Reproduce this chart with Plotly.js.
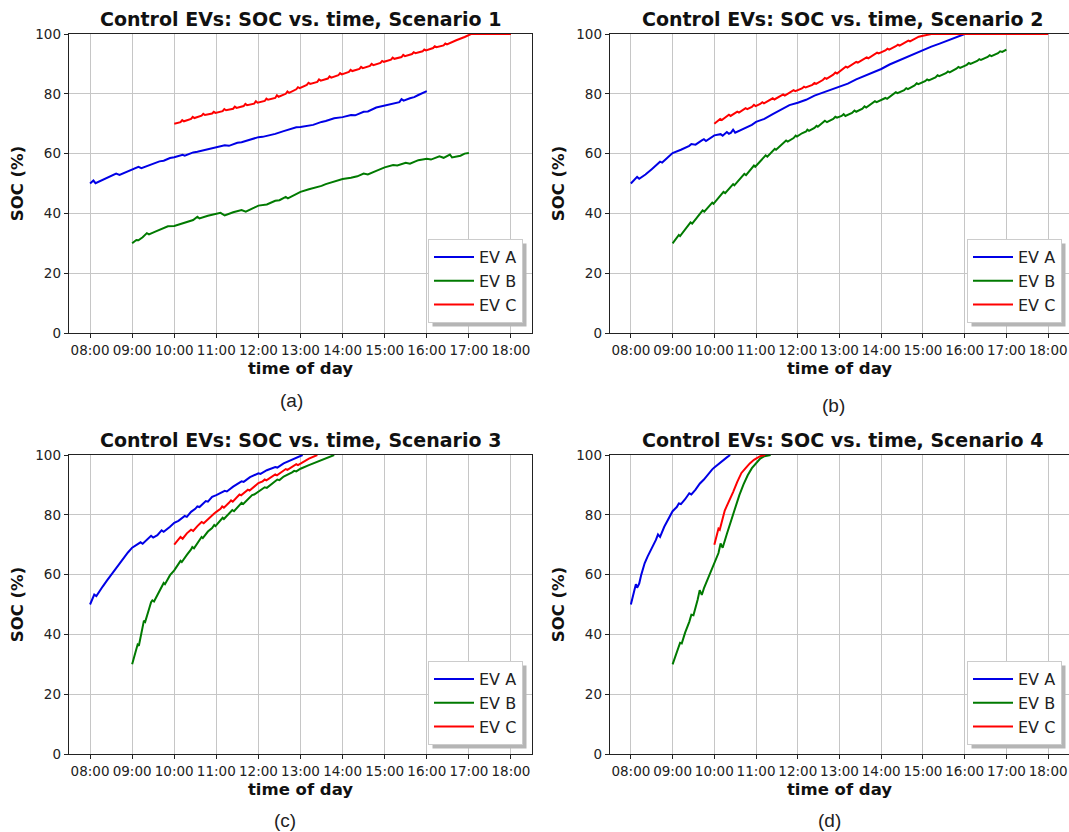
<!DOCTYPE html>
<html>
<head>
<meta charset="utf-8">
<script src="https://cdn.plot.ly/plotly-3.0.1.min.js"></script>
<style>html,body{margin:0;padding:0;background:#fff;}#chart{width:1069px;height:832px;}</style>
</head>
<body>
<div id="chart"></div>
<script>
// ---------- tick labels / categories ----------
const hourTicks = [8, 9, 10, 11, 12, 13, 14, 15, 16, 17, 18];
const hourLabels = ['08:00','09:00','10:00','11:00','12:00','13:00','14:00','15:00','16:00','17:00','18:00'];
const socTicks = [0, 20, 40, 60, 80, 100];
const seriesNames = ['EV A', 'EV B', 'EV C'];
const panelTitles = ['Control EVs: SOC vs. time, Scenario 1','Control EVs: SOC vs. time, Scenario 2','Control EVs: SOC vs. time, Scenario 3','Control EVs: SOC vs. time, Scenario 4'];
const panelCaptions = ['(a)','(b)','(c)','(d)'];

// ---------- Scenario 1 ----------
const s1A_t = [8.0,8.08,8.13,8.25,8.5,8.62,8.7,8.9,9.0,9.15,9.22,9.4,9.5,9.65,9.75,9.9,10.0,10.2,10.25,10.45,10.55,10.75,10.85,11.0,11.2,11.3,11.5,11.6,11.75,11.85,12.0,12.1,12.3,12.4,12.6,12.75,12.9,13.0,13.2,13.3,13.5,13.6,13.8,13.9,14.0,14.2,14.3,14.5,14.6,14.8,14.9,15.0,15.2,15.35,15.4,15.45,15.6,15.7,15.8,16.0];
const s1A_v = [50.0,51.0,50.1,50.9,52.3,53.3,52.9,54.0,54.6,55.6,55.1,56.0,56.6,57.4,57.6,58.5,58.8,59.6,59.3,60.4,60.6,61.2,61.6,62.0,62.8,62.6,63.6,63.8,64.4,65.0,65.5,65.6,66.2,66.6,67.5,68.1,68.8,68.9,69.5,69.6,70.6,70.9,71.8,72.0,72.2,72.9,72.8,74.0,74.1,75.4,75.7,76.1,76.8,77.2,78.2,77.7,78.5,78.9,79.6,80.9];
const s1B_t = [9.0,9.1,9.15,9.25,9.35,9.4,9.55,9.7,9.85,10.0,10.15,10.3,10.45,10.55,10.6,10.8,10.95,11.1,11.2,11.4,11.6,11.7,11.9,12.0,12.2,12.4,12.5,12.65,12.7,12.9,13.0,13.2,13.35,13.5,13.6,13.8,14.0,14.2,14.35,14.5,14.6,14.8,15.0,15.2,15.3,15.5,15.6,15.8,16.0,16.1,16.3,16.4,16.55,16.6,16.8,16.9,17.0];
const s1B_v = [30.0,31.1,31.0,32.0,33.4,33.0,33.9,34.7,35.7,35.8,36.4,37.2,37.8,38.9,38.3,39.2,39.6,40.2,39.3,40.4,41.1,40.6,41.9,42.6,43.0,44.2,44.4,45.5,45.0,46.4,47.2,48.1,48.6,49.2,49.8,50.6,51.5,51.9,52.4,53.3,53.0,54.2,55.4,56.2,56.0,56.9,56.6,57.8,58.3,58.0,59.1,58.6,59.7,58.7,59.3,60.0,60.2];
const s1C_t = [10.0,10.15,10.19,10.23,10.4,10.44,10.48,10.65,10.69,10.73,10.9,10.94,10.98,11.15,11.19,11.23,11.4,11.44,11.48,11.65,11.69,11.73,11.9,11.94,11.98,12.15,12.19,12.23,12.4,12.44,12.48,12.65,12.69,12.73,12.9,12.94,12.98,13.15,13.19,13.23,13.4,13.44,13.48,13.65,13.69,13.73,13.9,13.94,13.98,14.15,14.19,14.23,14.4,14.44,14.48,14.65,14.69,14.73,14.9,14.94,14.98,15.15,15.19,15.23,15.4,15.44,15.48,15.65,15.69,15.73,15.9,15.94,15.98,16.15,16.19,16.23,16.4,16.44,16.48,16.65,16.7,16.9,17.0,17.05,18.0];
const s1C_v = [70.0,70.5,71.2,70.8,71.6,72.3,71.9,72.7,73.3,72.9,73.4,74.0,73.6,74.2,74.9,74.5,75.0,75.7,75.3,75.9,76.6,76.2,76.7,77.5,77.0,77.6,78.4,78.0,78.6,79.5,79.0,80.0,80.8,80.3,81.5,82.2,81.9,83.0,83.7,83.3,84.0,84.8,84.4,85.1,85.8,85.4,86.2,86.9,86.5,87.3,88.0,87.6,88.3,89.0,88.6,89.3,90.0,89.6,90.3,91.0,90.7,91.4,92.1,91.7,92.3,93.0,92.6,93.3,93.9,93.6,94.2,94.8,94.5,95.3,95.9,95.6,96.2,96.8,96.5,97.4,97.9,99.0,99.6,100.0,100.0];

// ---------- Scenario 2 ----------
const s2A_t = [8.0,8.1,8.15,8.2,8.35,8.5,8.65,8.7,8.75,8.9,9.0,9.2,9.4,9.45,9.55,9.7,9.75,9.8,10.0,10.15,10.2,10.3,10.35,10.4,10.45,10.5,10.7,10.9,11.0,11.2,11.4,11.6,11.8,12.0,12.2,12.4,12.6,12.8,13.0,13.2,13.4,13.6,13.8,14.0,14.2,14.4,14.6,14.8,15.0,15.2,15.4,15.6,15.8,16.0,18.0];
const s2A_v = [50.0,51.5,52.2,51.6,53.0,54.8,56.6,57.3,57.0,58.9,60.2,61.3,62.6,63.2,63.0,64.4,64.8,64.2,66.1,66.5,66.0,67.2,66.6,67.0,68.0,67.0,68.2,69.6,70.6,71.6,73.2,74.8,76.2,77.0,78.0,79.4,80.4,81.6,82.4,83.4,84.8,86.0,87.2,88.3,89.8,91.0,92.3,93.4,94.7,95.8,96.8,97.8,98.9,100.0,100.0];
const s2B_t = [9.0,9.1,9.15,9.18,9.3,9.4,9.43,9.47,9.6,9.68,9.72,9.76,9.9,9.95,9.98,10.1,10.18,10.22,10.26,10.4,10.45,10.48,10.6,10.68,10.72,10.76,10.9,10.95,10.98,11.1,11.2,11.23,11.27,11.4,11.45,11.48,11.6,11.68,11.72,11.76,11.9,11.95,11.98,12.1,12.2,12.23,12.27,12.4,12.45,12.48,12.6,12.65,12.7,12.85,12.9,12.94,13.05,13.1,13.14,13.3,13.36,13.4,13.55,13.6,13.64,13.8,13.85,13.89,14.0,14.1,14.14,14.3,14.35,14.39,14.55,14.6,14.64,14.8,14.85,14.89,15.05,15.1,15.14,15.3,15.35,15.39,15.55,15.6,15.64,15.8,15.85,15.89,16.05,16.1,16.14,16.3,16.35,16.39,16.55,16.6,16.64,16.8,16.85,16.9,17.0];
const s2B_v = [30.0,31.8,32.8,32.4,34.8,36.4,37.0,36.6,38.8,40.4,41.0,40.6,42.8,43.6,43.2,45.2,46.6,47.2,46.8,48.8,49.8,49.4,51.2,52.6,53.2,52.8,55.0,56.0,55.6,57.4,58.8,59.4,59.0,60.8,61.6,61.3,62.8,63.8,64.4,64.0,65.2,66.0,65.7,66.8,67.4,68.0,67.6,68.6,69.3,69.0,70.2,71.0,70.5,71.6,72.3,72.0,72.6,73.2,72.6,73.6,74.4,74.0,75.0,75.8,75.4,76.8,77.5,77.2,78.0,78.6,78.3,79.8,80.5,80.2,81.2,81.9,81.6,82.8,83.5,83.2,84.2,84.8,84.5,85.5,86.2,85.9,86.9,87.5,87.2,88.4,89.0,88.7,89.7,90.3,90.0,91.0,91.6,91.3,92.3,92.9,92.6,93.6,94.2,94.0,94.8];
const s2C_t = [10.0,10.1,10.14,10.18,10.3,10.35,10.39,10.5,10.55,10.59,10.7,10.75,10.79,10.9,10.95,10.99,11.1,11.15,11.19,11.35,11.4,11.44,11.6,11.65,11.69,11.85,11.9,11.94,12.1,12.15,12.19,12.35,12.4,12.44,12.6,12.65,12.69,12.85,12.9,12.94,13.1,13.15,13.19,13.35,13.4,13.44,13.6,13.65,13.69,13.85,13.9,13.94,14.1,14.15,14.19,14.35,14.4,14.44,14.6,14.65,14.69,14.85,14.9,15.0,15.2,18.0];
const s2C_v = [70.0,71.0,71.6,71.2,72.4,73.0,72.6,73.4,74.0,73.7,74.6,75.2,74.9,75.6,76.3,75.9,76.6,77.2,76.8,77.9,78.5,78.1,79.2,79.8,79.4,80.6,81.2,80.9,81.8,82.4,82.1,83.0,83.6,83.3,84.6,85.3,85.0,86.4,87.1,86.8,88.5,89.1,88.8,90.1,90.7,90.4,91.6,92.2,91.9,93.2,93.8,93.5,94.5,95.1,94.8,95.9,96.4,96.1,97.3,97.8,97.5,98.6,99.1,99.4,100.0,100.0];

// ---------- Scenario 3 ----------
const s3A_t = [8.0,8.05,8.1,8.15,8.2,8.3,8.4,8.5,8.6,8.7,8.8,8.9,9.0,9.1,9.2,9.25,9.35,9.45,9.5,9.6,9.7,9.75,9.9,10.0,10.1,10.25,10.3,10.4,10.5,10.55,10.6,10.75,10.8,10.9,11.0,11.2,11.25,11.4,11.6,11.65,11.8,12.0,12.05,12.2,12.4,12.45,12.6,12.8,13.0,13.05];
const s3A_v = [50.0,52.0,53.3,52.8,54.0,56.0,58.0,59.9,62.0,63.8,65.5,67.4,69.0,69.8,70.8,70.3,71.6,73.0,72.4,73.2,74.8,74.3,76.0,77.3,78.0,79.6,79.3,81.0,82.0,82.8,82.6,84.6,84.4,86.0,86.6,88.0,87.8,89.4,91.2,91.0,92.6,93.9,93.7,94.9,96.0,95.8,97.2,98.4,99.6,100.0];
const s3B_t = [9.0,9.05,9.1,9.13,9.16,9.2,9.25,9.28,9.31,9.35,9.4,9.45,9.48,9.52,9.6,9.7,9.75,9.78,9.85,9.9,10.0,10.1,10.15,10.18,10.25,10.3,10.4,10.43,10.47,10.55,10.6,10.65,10.68,10.8,10.9,10.95,10.98,11.1,11.15,11.18,11.3,11.38,11.42,11.55,11.6,11.64,11.75,11.85,11.9,12.0,12.1,12.15,12.2,12.4,12.45,12.5,12.6,12.8,12.85,12.9,13.0,13.2,13.4,13.6,13.8];
const s3B_v = [30.0,32.6,35.0,36.6,36.2,39.0,42.6,44.6,44.2,46.4,48.4,50.8,51.4,51.0,53.2,55.6,57.2,56.8,58.8,59.8,61.4,63.4,64.6,64.2,65.8,66.6,68.4,69.2,68.8,70.4,71.4,72.6,72.2,74.4,75.6,76.6,76.2,78.2,79.0,78.6,80.4,81.6,81.2,83.2,84.0,83.6,85.2,86.6,86.8,87.7,88.6,89.2,89.0,91.2,91.8,91.6,92.8,94.2,94.7,94.5,95.4,96.6,97.8,99.0,100.0];
const s3C_t = [10.0,10.05,10.1,10.15,10.2,10.3,10.4,10.45,10.55,10.65,10.7,10.8,10.9,10.95,11.0,11.1,11.14,11.18,11.3,11.35,11.39,11.5,11.55,11.59,11.7,11.75,11.79,11.9,11.95,12.0,12.1,12.15,12.19,12.35,12.4,12.44,12.6,12.65,12.69,12.85,12.9,12.94,13.1,13.2,13.4];
const s3C_v = [70.0,71.0,72.0,72.6,72.0,73.8,75.0,74.6,76.2,77.6,77.2,78.6,80.0,80.4,81.0,82.0,82.8,82.4,84.0,84.8,84.4,86.0,86.8,86.5,87.8,88.4,88.1,89.4,90.2,90.6,91.2,91.8,91.5,92.9,93.5,93.2,94.7,95.3,95.0,96.3,96.9,96.6,98.0,98.8,100.0];

// ---------- Scenario 4 ----------
const s4A_t = [8.0,8.05,8.1,8.12,8.15,8.2,8.25,8.33,8.4,8.5,8.6,8.65,8.7,8.8,8.9,9.0,9.1,9.15,9.2,9.3,9.4,9.45,9.55,9.65,9.75,9.85,9.95,10.0,10.1,10.2,10.3,10.38];
const s4A_v = [50.0,53.0,55.0,56.8,55.6,57.0,60.0,63.8,66.0,68.6,71.6,73.4,72.6,76.0,78.8,81.2,82.6,83.8,83.6,85.2,87.2,86.8,88.4,90.4,91.8,93.6,95.2,95.8,97.0,98.2,99.2,100.0];
const s4B_t = [9.0,9.08,9.15,9.18,9.22,9.3,9.4,9.45,9.5,9.55,9.6,9.65,9.7,9.75,9.85,9.92,10.0,10.05,10.1,10.15,10.2,10.3,10.4,10.5,10.6,10.7,10.8,10.9,11.0,11.1,11.2,11.35];
const s4B_v = [30.0,33.2,36.0,37.2,37.0,40.6,44.2,46.6,46.4,48.8,51.6,54.8,53.2,55.4,58.6,61.2,63.6,65.4,67.2,70.4,69.0,73.6,78.0,82.4,86.6,90.2,93.2,95.6,97.4,98.8,99.6,100.0];
const s4C_t = [10.0,10.05,10.1,10.13,10.2,10.25,10.3,10.35,10.45,10.55,10.65,10.75,10.85,10.95,11.1,11.22];
const s4C_v = [70.0,73.0,75.4,75.0,78.6,81.4,83.0,84.4,87.6,91.0,94.0,95.6,97.2,98.4,99.6,100.0];

// ---------- styling ----------
const lineColors = ['#0000e6', '#007a00', '#ff0000'];
const FONT = 'DejaVu Sans, Verdana, sans-serif';

const panels = [
  [[s1A_t, s1A_v], [s1B_t, s1B_v], [s1C_t, s1C_v]],
  [[s2A_t, s2A_v], [s2B_t, s2B_v], [s2C_t, s2C_v]],
  [[s3A_t, s3A_v], [s3B_t, s3B_v], [s3C_t, s3C_v]],
  [[s4A_t, s4A_v], [s4B_t, s4B_v], [s4C_t, s4C_v]]
];

const W = 1069, H = 832;
const px = v => v / W;
const py = v => 1 - v / H;

// plot areas in pixels: [left, right, top, bottom]
const boxes = [
  [69, 532, 34, 333],
  [610, 1069, 34, 333],
  [69, 532, 455, 754],
  [610, 1069, 455, 754]
];
const xRange = [7.5, 18.5];

const traces = [];
panels.forEach((panel, p) => {
  const sfx = p === 0 ? '' : String(p + 1);
  panel.forEach((s, k) => {
    traces.push({
      type: 'scatter', mode: 'lines',
      x: s[0], y: s[1],
      name: seriesNames[k],
      xaxis: 'x' + sfx, yaxis: 'y' + sfx,
      legend: 'legend' + sfx,
      line: {color: lineColors[k], width: 2},
      hoverinfo: 'x+y+name'
    });
  });
});

const layout = {
  width: W, height: H,
  margin: {l: 0, r: 0, t: 0, b: 0},
  paper_bgcolor: '#ffffff', plot_bgcolor: '#ffffff',
  font: {family: FONT, color: '#222222'},
  showlegend: true,
  shapes: [], annotations: []
};

boxes.forEach((b, p) => {
  const sfx = p === 0 ? '' : String(p + 1);
  const rightPanel = p % 2 === 1;
  layout['xaxis' + sfx] = {
    domain: [px(b[0]), px(b[1])], anchor: 'y' + sfx, range: xRange,
    tickmode: 'array', tickvals: hourTicks, ticktext: hourLabels,
    showline: true, mirror: true, linecolor: '#222', linewidth: 1.3,
    ticks: 'outside', ticklen: 4, tickwidth: 1, tickcolor: '#222',
    showgrid: true, gridcolor: '#c6c6c6', gridwidth: 1, zeroline: false,
    tickfont: {family: FONT, size: 13.5, color: '#222'},
    ticklabeloverflow: 'allow',
    title: {text: 'time of day', standoff: 6, font: {family: FONT, size: 16.5, weight: 'bold', color: '#111'}},
    automargin: false, fixedrange: true
  };
  layout['yaxis' + sfx] = {
    domain: [py(b[3]), py(b[2])], anchor: 'x' + sfx, range: [0, 100],
    tickmode: 'array', tickvals: socTicks,
    showline: true, mirror: !rightPanel, linecolor: '#222', linewidth: 1.3,
    ticks: 'outside', ticklen: 4, tickwidth: 1, tickcolor: '#222',
    showgrid: true, gridcolor: '#c6c6c6', gridwidth: 1, zeroline: false,
    tickfont: {family: FONT, size: 13.5, color: '#222'},
    title: {text: 'SOC (%)', standoff: 7, font: {family: FONT, size: 16.5, weight: 'bold', color: '#111'}},
    automargin: false, fixedrange: true
  };
  const lr = rightPanel ? 1062 : 523;
  const lb = p < 2 ? 323 : 745;
  layout['legend' + sfx] = {
    x: px(lr), xanchor: 'right', y: py(lb), yanchor: 'bottom',
    bgcolor: '#ffffff', bordercolor: '#cccccc', borderwidth: 1,
    font: {family: FONT, size: 16, color: '#222'},
    itemwidth: 40
  };
  const cx = (b[0] + (rightPanel ? 1074.5 : b[1])) / 2;
  layout.annotations.push({
    text: panelTitles[p], xref: 'paper', yref: 'paper',
    x: px(cx), y: py(p < 2 ? 19 : 440), xanchor: 'center', yanchor: 'middle',
    showarrow: false, font: {family: FONT, size: 19, weight: 'bold', color: '#111'}
  });
});
const capPos = [[291, 400], [833, 405], [285, 820], [829, 820]];
capPos.forEach((c, p) => {
  layout.annotations.push({
    text: panelCaptions[p], xref: 'paper', yref: 'paper',
    x: px(c[0]), y: py(c[1]), xanchor: 'center', yanchor: 'middle',
    showarrow: false, font: {family: 'Liberation Sans, Arial, sans-serif', size: 19, color: '#222'}
  });
});

Plotly.newPlot('chart', traces, layout, {staticPlot: true, displayModeBar: false}).then(gd => {
  // soft drop shadow behind each legend box (matplotlib "shadow=True" look)
  const root = gd.getBoundingClientRect();
  const shapes = [];
  gd.querySelectorAll('g.infolayer > g').forEach(g => {
    const cls = g.getAttribute('class') || '';
    if (!/^legend\d*$/.test(cls)) return;
    const r = g.querySelector('rect.bg');
    if (!r) return;
    const bb = r.getBoundingClientRect();
    const x0 = bb.left - root.left + 4, x1 = bb.right - root.left + 4;
    const y0 = bb.top - root.top + 4, y1 = bb.bottom - root.top + 4;
    shapes.push({
      type: 'rect', xref: 'paper', yref: 'paper', layer: 'above',
      x0: px(x0), x1: px(Math.min(x1, W)), y0: py(y1), y1: py(y0),
      fillcolor: '#b5b5b5', line: {width: 0}
    });
  });
  return Plotly.relayout(gd, {shapes: shapes});
});
</script>
</body>
</html>
